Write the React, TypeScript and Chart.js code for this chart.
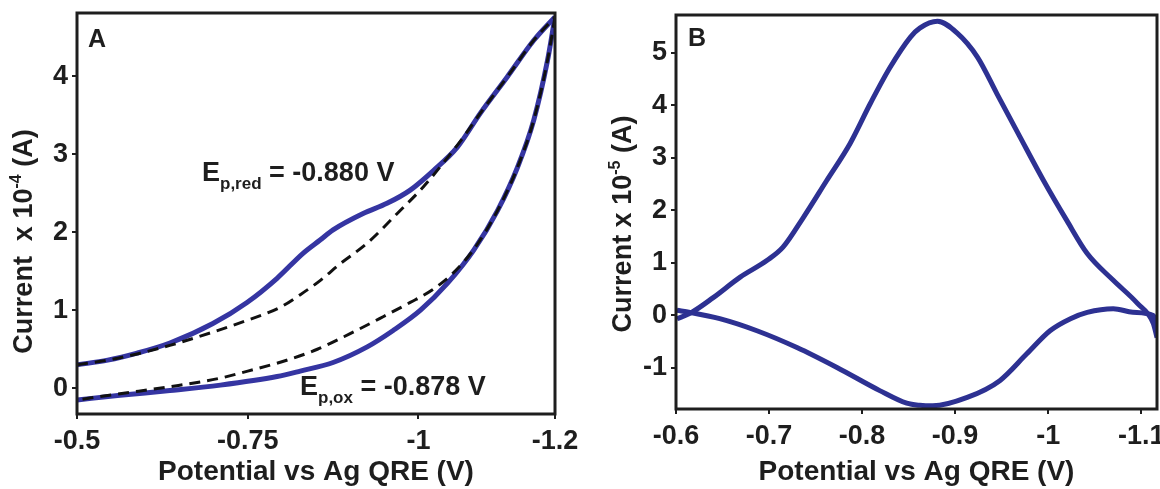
import React, { useEffect, useRef } from "react";
import { Chart, registerables } from "chart.js";

Chart.register(...registerables);

const FONT = '"Liberation Sans", Arial, Helvetica, sans-serif';
const INK = "#1e1e1e";
const BLUE_A = "#3535a2";
const BLUE_B = "#2d3192";
const BLANK = "#111111";

// ---------------- Panel A ----------------
const aXTicks = [-0.5, -0.75, -1, -1.2];
const aYTicks = [0, 1, 2, 3, 4];

// Sample, cathodic sweep (upper branch)
const aCathodicV = [-0.5, -0.545, -0.588, -0.636, -0.699, -0.749, -0.793, -0.831, -0.856, -0.875, -0.919, -0.954, -0.988, -1.022, -1.057, -1.091, -1.13, -1.169, -1.2];
const aCathodicI = [0.3, 0.36, 0.45, 0.58, 0.83, 1.1, 1.41, 1.73, 1.9, 2.03, 2.24, 2.37, 2.54, 2.79, 3.09, 3.53, 3.99, 4.46, 4.76];
// Sample, anodic sweep (lower branch)
const aAnodicV = [-1.2, -1.189, -1.169, -1.145, -1.116, -1.081, -1.043, -1.003, -0.963, -0.925, -0.875, -0.827, -0.793, -0.71, -0.636, -0.563, -0.5];
const aAnodicI = [4.76, 4.2, 3.44, 2.83, 2.28, 1.77, 1.35, 1.0, 0.74, 0.53, 0.33, 0.22, 0.15, 0.04, -0.03, -0.09, -0.15];
// Blank (dashed), cathodic sweep
const aBlankCathodicV = [-0.5, -0.545, -0.588, -0.636, -0.699, -0.749, -0.798, -0.827, -0.856, -0.886, -0.925, -0.969, -1.007, -1.043, -1.066, -1.091, -1.13, -1.169, -1.2];
const aBlankCathodicI = [0.3, 0.36, 0.44, 0.55, 0.72, 0.87, 1.04, 1.2, 1.38, 1.6, 1.86, 2.24, 2.58, 2.96, 3.22, 3.53, 3.99, 4.46, 4.76];
// Blank (dashed), anodic sweep
const aBlankAnodicV = [-1.2, -1.189, -1.169, -1.145, -1.116, -1.081, -1.05, -1.02, -0.988, -0.949, -0.9, -0.852, -0.8, -0.75, -0.71, -0.636, -0.563, -0.5];
const aBlankAnodicI = [4.76, 4.2, 3.44, 2.83, 2.28, 1.78, 1.47, 1.26, 1.1, 0.92, 0.7, 0.5, 0.34, 0.22, 0.13, 0.02, -0.07, -0.15];

// ---------------- Panel B ----------------
const bXTicks = [-0.6, -0.7, -0.8, -0.9, -1, -1.1];
const bYTicks = [-1, 0, 1, 2, 3, 4, 5];

const bOutV = [-0.601, -0.615, -0.64, -0.669, -0.698, -0.715, -0.737, -0.762, -0.787, -0.809, -0.83, -0.852, -0.862, -0.881, -0.902, -0.924, -0.945, -0.97, -0.995, -1.02, -1.042, -1.07, -1.096, -1.113, -1.117];
const bOutI = [-0.06, 0.04, 0.34, 0.73, 1.05, 1.3, 1.87, 2.57, 3.27, 4.04, 4.72, 5.3, 5.47, 5.6, 5.38, 4.92, 4.22, 3.39, 2.57, 1.81, 1.18, 0.67, 0.23, -0.15, -0.42];
const bBackV = [-1.117, -1.113, -1.091, -1.07, -1.042, -1.024, -1.002, -0.977, -0.948, -0.913, -0.876, -0.862, -0.848, -0.819, -0.773, -0.73, -0.687, -0.647, -0.615, -0.601];
const bBackI = [-0.15, 0.0, 0.06, 0.13, 0.06, -0.06, -0.29, -0.73, -1.24, -1.56, -1.72, -1.71, -1.67, -1.43, -0.99, -0.61, -0.29, -0.06, 0.06, 0.1];

const pts = (xs: number[], ys: number[]) => xs.map((x, i) => ({ x, y: ys[i] }));

type Note = { main: string; sub: string; rest: string; dx: number; dy: number };

interface PanelSpec {
  letter: string;
  letterDx: number;
  letterDy: number;
  xTicks: number[];
  yTicks: number[];
  xMin: number;
  xMax: number;
  yMin: number;
  yMax: number;
  datasets: any[];
  yTitle: [string, string, string];
  yTitleShift: number;
  notes: Note[];
  padTop: number;
  padRight: number;
  yWidth: number;
  xHeight: number;
  canvasWidth: number;
}

const line = (data: any[], color: string, width: number, dash: number[] = []) => ({
  data,
  borderColor: color,
  backgroundColor: color,
  borderWidth: width,
  borderDash: dash,
  cubicInterpolationMode: "monotone",
  pointRadius: 0,
  fill: false,
});

const specA: PanelSpec = {
  letter: "A",
  letterDx: 11,
  letterDy: 34,
  xTicks: aXTicks,
  yTicks: aYTicks,
  xMin: -1.2,
  xMax: -0.5,
  yMin: -0.33,
  yMax: 4.81,
  datasets: [
    line(pts(aBlankCathodicV, aBlankCathodicI), BLANK, 3, [11, 7]),
    line(pts(aBlankAnodicV, aBlankAnodicI), BLANK, 3, [11, 7]),
    line(pts(aCathodicV, aCathodicI), BLUE_A, 5),
    line(pts(aAnodicV, aAnodicI), BLUE_A, 5),
  ],
  yTitle: ["Current  x 10", "-4", " (A)"],
  yTitleShift: 28,
  notes: [
    { main: "E", sub: "p,red", rest: " = -0.880 V", dx: 125, dy: 168 },
    { main: "E", sub: "p,ox", rest: " = -0.878 V", dx: 223, dy: 382 },
  ],
  padTop: 13,
  padRight: 25,
  yWidth: 77,
  xHeight: 75,
  canvasWidth: 580,
};

const specB: PanelSpec = {
  letter: "B",
  letterDx: 12,
  letterDy: 31,
  xTicks: bXTicks,
  yTicks: bYTicks,
  xMin: -1.117,
  xMax: -0.6,
  yMin: -1.78,
  yMax: 5.72,
  datasets: [
    line(pts(bOutV, bOutI), BLUE_B, 5),
    line(pts(bBackV, bBackI), BLUE_B, 5),
  ],
  yTitle: ["Current x 10", "-5", " (A)"],
  yTitleShift: 12,
  notes: [],
  padTop: 15,
  padRight: 23,
  yWidth: 96,
  xHeight: 80,
  canvasWidth: 600,
};

function decorPlugin(spec: PanelSpec) {
  return {
    id: "decor" + spec.letter,
    afterDraw(chart: any) {
      const ctx: CanvasRenderingContext2D = chart.ctx;
      const ca = chart.chartArea;
      ctx.save();
      ctx.strokeStyle = INK;
      ctx.lineWidth = 3;
      ctx.strokeRect(ca.left, ca.top, ca.right - ca.left, ca.bottom - ca.top);

      ctx.fillStyle = INK;
      ctx.textAlign = "left";
      ctx.textBaseline = "alphabetic";
      ctx.font = `bold 25px ${FONT}`;
      ctx.fillText(spec.letter, ca.left + spec.letterDx, ca.top + spec.letterDy);

      for (const n of spec.notes) {
        let x = ca.left + n.dx;
        const y = ca.top + n.dy;
        ctx.font = `bold 27px ${FONT}`;
        ctx.fillText(n.main, x, y);
        x += ctx.measureText(n.main).width;
        ctx.font = `bold 17px ${FONT}`;
        ctx.fillText(n.sub, x, y + 8);
        x += ctx.measureText(n.sub).width;
        ctx.font = `bold 27px ${FONT}`;
        ctx.fillText(n.rest, x, y);
      }

      const [pre, sup, post] = spec.yTitle;
      ctx.translate(ca.left - 45, (ca.top + ca.bottom) / 2 + spec.yTitleShift);
      ctx.rotate(-Math.PI / 2);
      ctx.font = `bold 27px ${FONT}`;
      const w1 = ctx.measureText(pre).width;
      const w3 = ctx.measureText(post).width;
      ctx.font = `bold 16px ${FONT}`;
      const w2 = ctx.measureText(sup).width;
      const x0 = -(w1 + w2 + w3) / 2;
      ctx.font = `bold 27px ${FONT}`;
      ctx.fillText(pre, x0, 0);
      ctx.font = `bold 16px ${FONT}`;
      ctx.fillText(sup, x0 + w1, -11);
      ctx.font = `bold 27px ${FONT}`;
      ctx.fillText(post, x0 + w1 + w2, 0);
      ctx.restore();
    },
  };
}

function buildConfig(spec: PanelSpec): any {
  const tickFont = { family: FONT, size: 27, weight: "bold" };
  const grid = {
    drawOnChartArea: false,
    drawTicks: true,
    tickLength: 5,
    color: INK,
    lineWidth: 2,
  };
  return {
    type: "line",
    data: { datasets: spec.datasets },
    options: {
      responsive: false,
      maintainAspectRatio: false,
      animation: false,
      devicePixelRatio: 1,
      layout: { padding: { left: 0, top: spec.padTop, right: spec.padRight, bottom: 0 } },
      plugins: { legend: { display: false }, tooltip: { enabled: false } },
      elements: { point: { radius: 0, hoverRadius: 0 } },
      scales: {
        x: {
          type: "linear",
          reverse: true,
          min: spec.xMin,
          max: spec.xMax,
          afterBuildTicks: (s: any) => {
            s.ticks = spec.xTicks.map((v) => ({ value: v }));
          },
          afterFit: (s: any) => {
            s.height = spec.xHeight;
            s.paddingLeft = 0;
            s.paddingRight = 0;
          },
          border: { display: false },
          grid,
          ticks: {
            padding: 6,
            autoSkip: false,
            maxRotation: 0,
            minRotation: 0,
            font: tickFont,
            color: INK,
            callback: (v: number) => String(v),
          },
          title: {
            display: true,
            text: "Potential vs Ag QRE (V)",
            color: INK,
            font: { family: FONT, size: 28, weight: "bold" },
            padding: 0,
          },
        },
        y: {
          type: "linear",
          min: spec.yMin,
          max: spec.yMax,
          afterBuildTicks: (s: any) => {
            s.ticks = spec.yTicks.map((v) => ({ value: v }));
          },
          afterFit: (s: any) => {
            s.width = spec.yWidth;
            s.paddingTop = 0;
            s.paddingBottom = 0;
          },
          border: { display: false },
          grid,
          ticks: {
            padding: 4,
            autoSkip: false,
            font: tickFont,
            color: INK,
            callback: (v: number) => String(v),
          },
        },
      },
    },
    plugins: [decorPlugin(spec)],
  };
}

function Panel({ spec, left }: { spec: PanelSpec; left: number }) {
  const ref = useRef<HTMLCanvasElement>(null);
  useEffect(() => {
    const chart = new Chart(ref.current as HTMLCanvasElement, buildConfig(spec));
    return () => chart.destroy();
  }, [spec]);
  return (
    <canvas
      ref={ref}
      width={spec.canvasWidth}
      height={489}
      style={{ position: "absolute", left, top: 0, width: spec.canvasWidth, height: 489 }}
    />
  );
}

export default function App() {
  return (
    <div
      style={{
        position: "absolute",
        left: 0,
        top: 0,
        width: 1160,
        height: 489,
        overflow: "hidden",
        background: "#ffffff",
      }}
    >
      <Panel spec={specA} left={0} />
      <Panel spec={specB} left={580} />
    </div>
  );
}
